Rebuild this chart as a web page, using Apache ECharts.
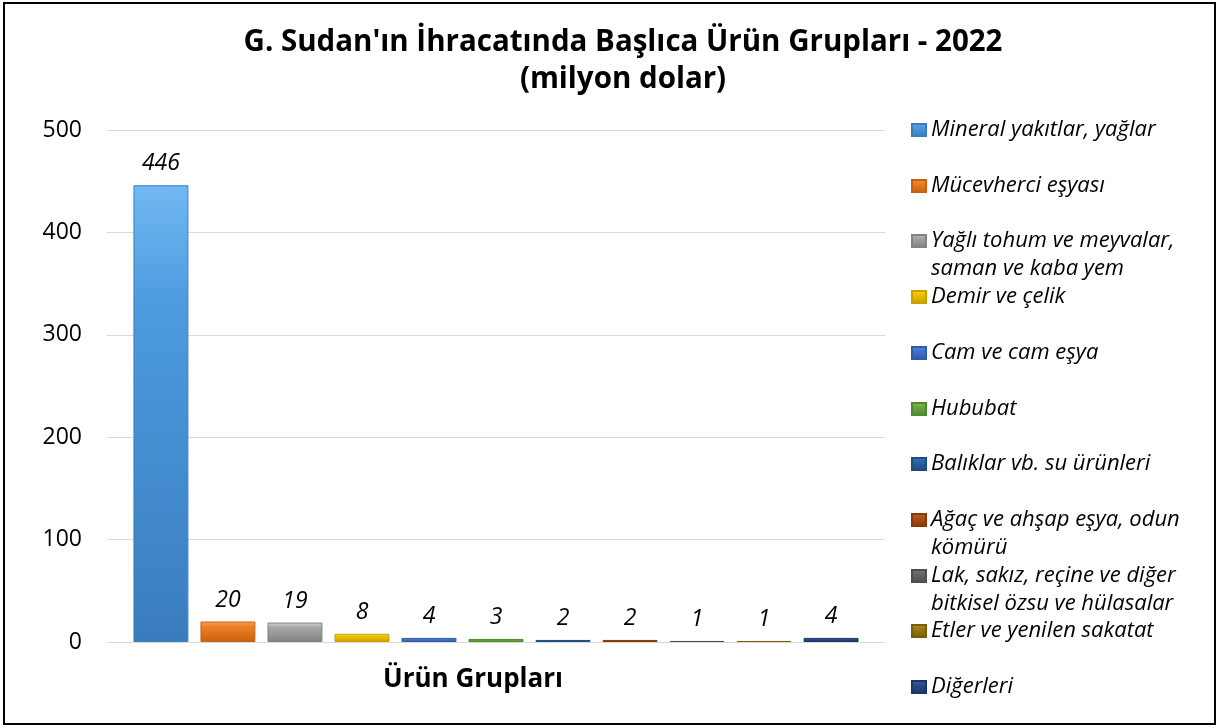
<!DOCTYPE html>
<html>
<head>
<meta charset="utf-8">
<script src="https://cdn.jsdelivr.net/npm/echarts@6/dist/echarts.min.js"></script>
<style>
html,body{margin:0;padding:0;background:#fff;}
#chart{width:1219px;height:728px;}
</style>
</head>
<body>
<div id="chart"></div>
<script>
// ---- data ----
const axisCategory = ['Ürün Grupları'];
const productGroups = [
  'Mineral yakıtlar, yağlar',
  'Mücevherci eşyası',
  'Yağlı tohum ve meyvalar,\nsaman ve kaba yem',
  'Demir ve çelik',
  'Cam ve cam eşya',
  'Hububat',
  'Balıklar vb. su ürünleri',
  'Ağaç ve ahşap eşya, odun\nkömürü',
  'Lak, sakız, reçine ve diğer\nbitkisel özsu ve hülasalar',
  'Etler ve yenilen sakatat',
  'Diğerleri'
];
const exportValues = [446, 20, 19, 8, 4, 3, 2, 2, 1, 1, 4];
const yTicks = [0, 100, 200, 300, 400, 500];

// ---- styles ----
const FONT = '"Open Sans", "Noto Sans", sans-serif';
const palette = [
  ['#72b9f2', '#4d9be0', '#3a7dbf'],
  ['#f7a155', '#ee7f25', '#c9600f'],
  ['#d6d6d6', '#a6a6a6', '#838383'],
  ['#ffe45a', '#f2c400', '#c9a000'],
  ['#6c9cec', '#4677d3', '#2f5aa8'],
  ['#95cf6a', '#6cab45', '#4c8a2c'],
  ['#4f8cc9', '#2b66a6', '#1d4c80'],
  ['#d7753a', '#b2521a', '#87390c'],
  ['#8f8f8f', '#6a6a6a', '#4d4d4d'],
  ['#c9a43a', '#a07d14', '#7a5d08'],
  ['#4d6fae', '#2d4f8c', '#1c3566']
];
function grad(c) {
  return new echarts.graphic.LinearGradient(0, 0, 0, 1, [
    {offset: 0, color: c[0]},
    {offset: 0.25, color: c[1]},
    {offset: 1, color: c[2]}
  ]);
}

const chart = echarts.init(document.getElementById('chart'), null, {renderer: 'canvas'});

const series = productGroups.map((name, i) => ({
  name: name,
  type: 'bar',
  data: [exportValues[i]],
  barGap: '22%',
  barCategoryGap: '6.8%',
  itemStyle: {color: grad(palette[i]), borderColor: palette[i][2], borderWidth: 1},
  label: {
    show: true, position: 'top', distance: 10,
    fontFamily: FONT, fontStyle: 'italic', fontSize: 23, color: '#000'
  }
}));

const LH = 28;
const legends = productGroups.map((name, i) => {
  const twoLine = name.indexOf('\n') >= 0;
  const center = 130 + i * 55.7;
  return {
    orient: 'vertical',
    left: 911,
    top: Math.round(center - (twoLine ? 1.5 * LH : 0.5 * LH)),
    padding: 0,
    itemWidth: 14,
    itemHeight: 12,
    itemGap: 0,
    icon: 'rect',
    // a leading blank line puts the first text line level with the icon
    formatter: twoLine ? (n => ' \n' + n) : undefined,
    textStyle: {fontFamily: FONT, fontStyle: 'italic', fontSize: 22, color: '#000', lineHeight: LH},
    data: [name]
  };
});

chart.setOption({
  animation: false,
  backgroundColor: '#fff',
  title: {
    text: "G. Sudan'ın İhracatında Başlıca Ürün Grupları - 2022\n(milyon dolar)",
    left: 618, top: 19, textAlign: 'center',
    textStyle: {fontFamily: FONT, fontWeight: 'bold', fontSize: 29.5, color: '#000', lineHeight: 37}
  },
  legend: legends,
  grid: {left: 107, right: 334, top: 130, bottom: 86, containLabel: false},
  xAxis: {
    type: 'category',
    data: axisCategory,
    axisLine: {lineStyle: {color: '#d9d9d9', width: 1}},
    axisTick: {show: false},
    axisLabel: {
      fontFamily: FONT, fontWeight: 'bold', fontSize: 26, color: '#000',
      margin: 25, padding: [0, 46, 0, 0]
    }
  },
  yAxis: {
    type: 'value',
    min: yTicks[0], max: yTicks[yTicks.length - 1], interval: yTicks[1] - yTicks[0],
    axisLine: {show: false},
    axisTick: {show: false},
    splitLine: {lineStyle: {color: '#d9d9d9', width: 1}},
    axisLabel: {fontFamily: FONT, fontSize: 23, color: '#000', margin: 25}
  },
  graphic: [{
    type: 'rect', silent: true,
    shape: {x: 4, y: 3, width: 1211, height: 721},
    style: {fill: 'none', stroke: '#000', lineWidth: 2}
  }],
  series: series
});
</script>
</body>
</html>
